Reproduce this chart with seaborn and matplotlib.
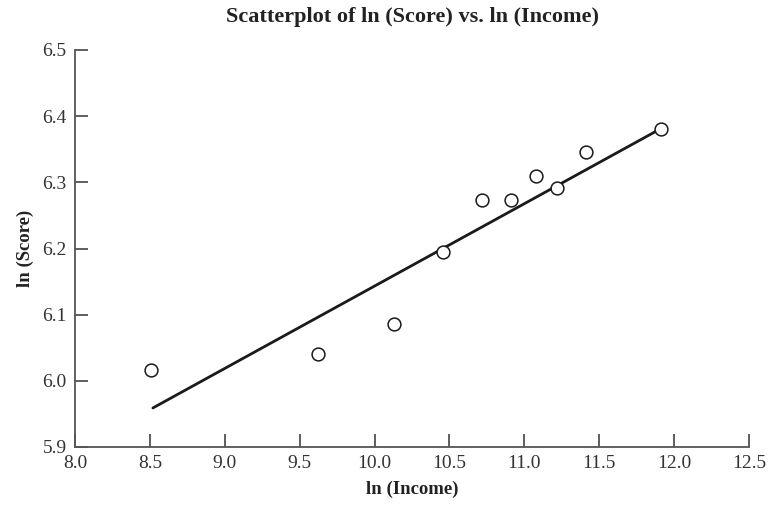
import matplotlib
matplotlib.use("Agg")
import matplotlib.pyplot as plt
import seaborn as sns
import pandas as pd

# Observed data (natural logs)
ln_income = [8.51, 9.62, 10.13, 10.46, 10.72, 10.91, 11.08, 11.22, 11.41, 11.91]
ln_score = [6.016, 6.040, 6.086, 6.195, 6.273, 6.273, 6.309, 6.291, 6.346, 6.380]

# Fitted least-squares line endpoints
fit_income = [8.52, 11.91]
fit_score = [5.959, 6.381]

x_ticks = [8.0, 8.5, 9.0, 9.5, 10.0, 10.5, 11.0, 11.5, 12.0, 12.5]
y_ticks = [5.9, 6.0, 6.1, 6.2, 6.3, 6.4, 6.5]

sns.set_theme(style="white")
plt.rcParams["font.family"] = ["Liberation Serif", "DejaVu Serif"]

df = pd.DataFrame({"x": ln_income, "y": ln_score})
fit = pd.DataFrame({"x": fit_income, "y": fit_score})

fig = plt.figure(figsize=(7.68, 5.05), dpi=100)
ax = fig.add_axes([75 / 768, 1 - 447 / 505, 674 / 768, 397 / 505])

sns.lineplot(data=fit, x="x", y="y", ax=ax, color="#1a1a1a", linewidth=2.0,
             zorder=2)
sns.scatterplot(data=df, x="x", y="y", ax=ax, s=85, facecolor="white",
                edgecolor="#1a1a1a", linewidth=1.1, zorder=3)

ax.set_xlim(8.0, 12.5)
ax.set_ylim(5.9, 6.5)
ax.set_xticks(x_ticks)
ax.set_xticklabels([f"{t:.1f}" for t in x_ticks])
ax.set_yticks(y_ticks)
ax.set_yticklabels([f"{t:.1f}" for t in y_ticks])

for side in ("top", "right"):
    ax.spines[side].set_visible(False)
for side in ("left", "bottom"):
    ax.spines[side].set_color("#555555")
    ax.spines[side].set_linewidth(1.3)

ax.tick_params(axis="both", which="major", bottom=True, left=True,
               direction="in", length=9.5, width=1.1, color="#333333",
               labelsize=14, labelcolor="#333333")
ax.tick_params(axis="x", pad=5.5)
ax.tick_params(axis="y", pad=6)

ax.set_xlabel("ln (Income)", fontsize=13.5, fontweight="bold", color="#222222",
              labelpad=6.5)
ax.set_ylabel("ln (Score)", fontsize=13.5, fontweight="bold", color="#222222",
              labelpad=6)
ax.set_title("Scatterplot of ln (Score) vs. ln (Income)", fontsize=16,
             fontweight="bold", color="#222222", pad=20)

fig.savefig("out.png", dpi=100)
